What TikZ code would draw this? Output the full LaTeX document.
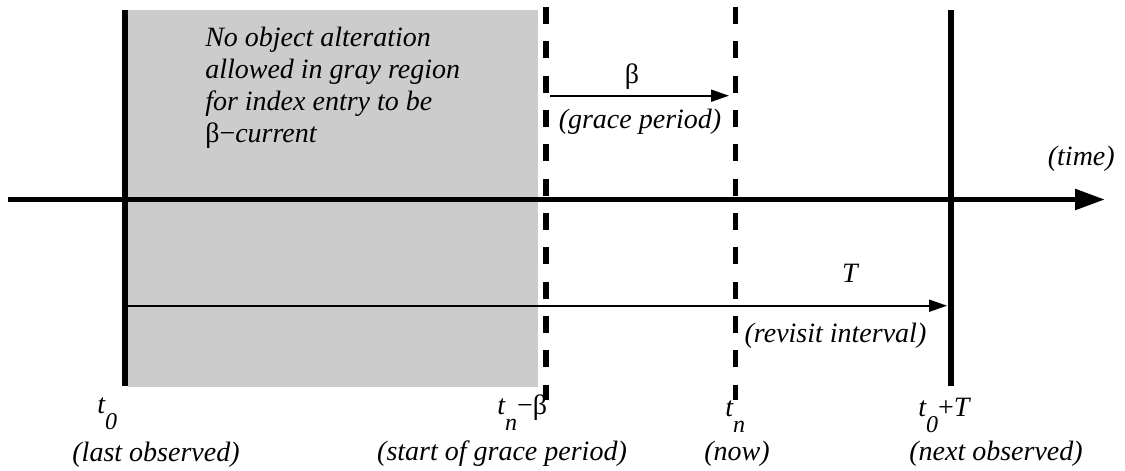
\documentclass[tikz,border=0pt]{standalone}
\usepackage{fontspec}
\setmainfont{Liberation Serif}
\usetikzlibrary{arrows.meta}
\definecolor{regiongray}{RGB}{204,204,204}
\newcommand{\lowsub}[1]{\raisebox{-12.5pt}{\fontsize{18}{18}\selectfont #1}}
\begin{document}
\begin{tikzpicture}[x=0.75pt,y=-0.75pt,
  thickline/.style={line width=4.1pt},
  dashline/.style={line width=4pt, dash pattern=on 12.75pt off 13pt},
  span/.style={line width=1.4pt, -{Triangle[length=13.5pt,width=9pt]}},
  axis/.style={line width=4.1pt, -{Triangle[length=22.5pt,width=15pt]}},
  lbl/.style={inner sep=0pt, font=\fontsize{21}{24}\selectfont\itshape},
]
\useasboundingbox (0,0) rectangle (1125,471);
% gray region
\fill[regiongray] (128,10) rectangle (538,387);
% coordinates
\coordinate (L0) at (125,10);   \coordinate (L1) at (125,386);
\coordinate (R0) at (951,10);   \coordinate (R1) at (951,386);
\coordinate (D0) at (546,7);    \coordinate (D1) at (546,400);
\coordinate (N0) at (735.5,7);  \coordinate (N1) at (735.5,400);
\coordinate (axL) at (8,199.5); \coordinate (axR) at (1105,199.5);
\coordinate (bS) at (550,95.7); \coordinate (bE) at (729,95.7);
\coordinate (TS) at (128,305.7);\coordinate (TE) at (947,305.7);
% vertical lines
\draw[thickline] (L0) -- (L1);
\draw[thickline] (R0) -- (R1);
\draw[dashline] (D0) -- (D1);
\draw[dashline] (N0) -- (N1);
% axis
\draw[axis] (axL) -- (axR);
% spans
\draw[span] (bS) -- (bE);
\draw[span] (TS) -- (TE);
% texts
\node[lbl, align=left, anchor=base west] (note) at (205,142)
  {No object alteration\\allowed in gray region\\for index entry to be\\{\upshape β−}current};
\node[lbl, anchor=base] (beta) at (632,83) {\upshape β};
\node[lbl, anchor=base] (grace) at (640,128) {(grace period)};
\node[lbl, anchor=base east] (time) at (1115,165) {(time)};
\node[lbl, anchor=base] (Tl) at (850,282) {T};
\node[lbl, anchor=base] (rev) at (835.5,342) {(revisit interval)};
\node[lbl, anchor=base west] (t0) at (97,413) {t\lowsub{0}};
\node[lbl, anchor=base] (lastobs) at (156,461) {(last observed)};
\node[lbl, anchor=base west] (tnb) at (497,414) {t\lowsub{n}{\upshape−β}};
\node[lbl, anchor=base] (start) at (502,460) {(start of grace period)};
\node[lbl, anchor=base west] (tn) at (725,416) {t\lowsub{n}};
\node[lbl, anchor=base] (now) at (737,460) {(now)};
\node[lbl, anchor=base west] (t0T) at (918,416) {t\lowsub{0}{\upshape +}T};
\node[lbl, anchor=base] (nextobs) at (996,460) {(next observed)};
\end{tikzpicture}
\end{document}
